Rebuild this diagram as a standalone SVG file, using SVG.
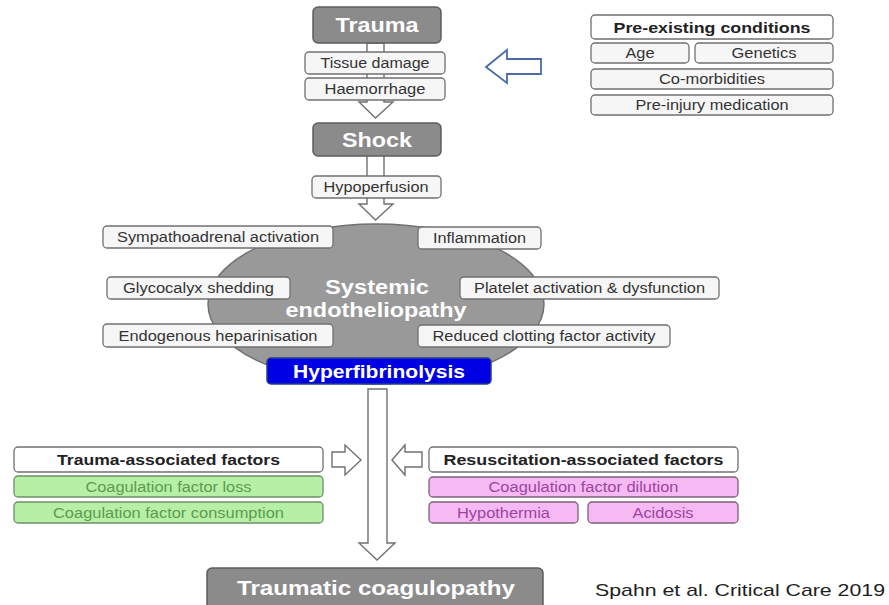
<svg xmlns="http://www.w3.org/2000/svg" width="889" height="605" viewBox="0 0 889 605">
<style>
  text { font-family: "Liberation Sans", Arial, sans-serif; text-anchor: middle; }
  .big rect, rect.big { fill: #8b8b8b; stroke: #5e5e5e; stroke-width: 1.5; }
  .bigt { font-size: 20px; font-weight: bold; fill: #ffffff; }
  .wb { fill: #f6f6f6; stroke: #707070; stroke-width: 1.3; }
  .hb { fill: #ffffff; stroke: #707070; stroke-width: 1.3; }
  .gb { fill: #b5f0a6; stroke: #6f8f68; stroke-width: 1.3; }
  .pb { fill: #f6b9f3; stroke: #7a617a; stroke-width: 1.3; }
  .t { font-size: 14px; fill: #333333; }
  .ht { font-size: 15px; font-weight: bold; fill: #222222; }
  .gt { font-size: 14px; fill: #5f9a50; }
  .pt { font-size: 14px; fill: #9b45a0; }
  .arr { fill: #ffffff; stroke: #707070; stroke-width: 1.4; stroke-linejoin: miter; }
</style>

<g id="connectors">
  <polygon class="arr" points="367,43 384,43 384,102 393,102 375.5,118 359,102 367,102"/>
  <polygon class="arr" points="367,155 384,155 384,204 393,204 375.5,220 359,204 367,204"/>
  <polygon class="arr" points="368,389 387,389 387,543 395,543 377,560 359,543 368,543"/>
  <polygon class="arr" points="332,452 345,452 345,445 361,460 345,475 345,467 332,467"/>
  <polygon class="arr" points="422,452 405,452 405,445 392,460 405,475 405,467 422,467"/>
  <polygon points="541,59 507,59 507,50 486,67 507,83 507,74 541,74" fill="#ffffff" stroke="#4a6aa8" stroke-width="1.8"/>
</g>

<g id="trauma">
  <rect class="big" x="313" y="7" width="128" height="36" rx="5"/>
  <text class="bigt" x="377" y="32" textLength="83" lengthAdjust="spacingAndGlyphs">Trauma</text>
</g>
<g id="tissue-damage">
  <rect class="wb" x="305" y="52" width="140" height="22" rx="4"/>
  <text class="t" x="375" y="68" textLength="109" lengthAdjust="spacingAndGlyphs">Tissue damage</text>
</g>
<g id="haemorrhage">
  <rect class="wb" x="305" y="78" width="140" height="22" rx="4"/>
  <text class="t" x="375" y="94" textLength="101" lengthAdjust="spacingAndGlyphs">Haemorrhage</text>
</g>
<g id="shock">
  <rect class="big" x="313" y="123" width="128" height="33" rx="5"/>
  <text class="bigt" x="377" y="146.5" textLength="70" lengthAdjust="spacingAndGlyphs">Shock</text>
</g>
<g id="hypoperfusion">
  <rect class="wb" x="312" y="176" width="129" height="22" rx="4"/>
  <text class="t" x="376" y="192" textLength="105" lengthAdjust="spacingAndGlyphs">Hypoperfusion</text>
</g>

<g id="pre-existing">
  <rect class="hb" x="591" y="15" width="242" height="24" rx="4"/>
  <text class="ht" x="712" y="32.5" textLength="197" lengthAdjust="spacingAndGlyphs">Pre-existing conditions</text>
</g>
<g id="age">
  <rect class="wb" x="591" y="43" width="98" height="20" rx="4"/>
  <text class="t" x="640" y="58" textLength="29" lengthAdjust="spacingAndGlyphs">Age</text>
</g>
<g id="genetics">
  <rect class="wb" x="695" y="43" width="138" height="20" rx="4"/>
  <text class="t" x="764" y="58" textLength="65" lengthAdjust="spacingAndGlyphs">Genetics</text>
</g>
<g id="co-morbidities">
  <rect class="wb" x="591" y="69" width="242" height="20" rx="4"/>
  <text class="t" x="712" y="84" textLength="106" lengthAdjust="spacingAndGlyphs">Co-morbidities</text>
</g>
<g id="pre-injury">
  <rect class="wb" x="591" y="95" width="242" height="20" rx="4"/>
  <text class="t" x="712" y="110" textLength="153" lengthAdjust="spacingAndGlyphs">Pre-injury medication</text>
</g>

<g id="endotheliopathy">
  <ellipse cx="376" cy="304" rx="168" ry="80" fill="#999999" stroke="#717171" stroke-width="1.5"/>
  <text class="bigt" x="377" y="294" textLength="104" lengthAdjust="spacingAndGlyphs">Systemic</text>
  <text class="bigt" x="376" y="317" textLength="181" lengthAdjust="spacingAndGlyphs">endotheliopathy</text>
</g>
<g id="sympathoadrenal">
  <rect class="wb" x="103" y="226" width="230" height="22" rx="4"/>
  <text class="t" x="218" y="242" textLength="202" lengthAdjust="spacingAndGlyphs">Sympathoadrenal activation</text>
</g>
<g id="inflammation">
  <rect class="wb" x="418" y="227" width="123" height="22" rx="4"/>
  <text class="t" x="479.5" y="243" textLength="93" lengthAdjust="spacingAndGlyphs">Inflammation</text>
</g>
<g id="glycocalyx">
  <rect class="wb" x="107" y="277" width="183" height="22" rx="4"/>
  <text class="t" x="198.5" y="293" textLength="151" lengthAdjust="spacingAndGlyphs">Glycocalyx shedding</text>
</g>
<g id="platelet">
  <rect class="wb" x="460" y="277" width="259" height="22" rx="4"/>
  <text class="t" x="589.5" y="293" textLength="231" lengthAdjust="spacingAndGlyphs">Platelet activation &amp; dysfunction</text>
</g>
<g id="heparinisation">
  <rect class="wb" x="103" y="324" width="230" height="23" rx="4"/>
  <text class="t" x="218" y="340.5" textLength="199" lengthAdjust="spacingAndGlyphs">Endogenous heparinisation</text>
</g>
<g id="clotting">
  <rect class="wb" x="418" y="325" width="252" height="22" rx="4"/>
  <text class="t" x="544" y="341" textLength="223" lengthAdjust="spacingAndGlyphs">Reduced clotting factor activity</text>
</g>
<g id="hyperfibrinolysis">
  <rect x="267" y="358" width="224" height="26" rx="4" fill="#0000e4" stroke="#23408c" stroke-width="1.5"/>
  <text x="379" y="377.5" font-size="18" font-weight="bold" fill="#ffffff" textLength="172" lengthAdjust="spacingAndGlyphs">Hyperfibrinolysis</text>
</g>

<g id="trauma-factors">
  <rect class="hb" x="14" y="447" width="309" height="25" rx="4"/>
  <text class="ht" x="168.5" y="465" textLength="223" lengthAdjust="spacingAndGlyphs">Trauma-associated factors</text>
</g>
<g id="factor-loss">
  <rect class="gb" x="14" y="476" width="309" height="21" rx="4"/>
  <text class="gt" x="168.5" y="491.5" textLength="166" lengthAdjust="spacingAndGlyphs">Coagulation factor loss</text>
</g>
<g id="factor-consumption">
  <rect class="gb" x="14" y="502" width="309" height="21" rx="4"/>
  <text class="gt" x="168.5" y="517.5" textLength="231" lengthAdjust="spacingAndGlyphs">Coagulation factor consumption</text>
</g>

<g id="resuscitation-factors">
  <rect class="hb" x="429" y="447" width="309" height="25" rx="4"/>
  <text class="ht" x="583.5" y="465" textLength="280" lengthAdjust="spacingAndGlyphs">Resuscitation-associated factors</text>
</g>
<g id="factor-dilution">
  <rect class="pb" x="429" y="477" width="309" height="20" rx="4"/>
  <text class="pt" x="583.5" y="492" textLength="190" lengthAdjust="spacingAndGlyphs">Coagulation factor dilution</text>
</g>
<g id="hypothermia">
  <rect class="pb" x="429" y="502" width="149" height="21" rx="4"/>
  <text class="pt" x="503.5" y="517.5" textLength="93" lengthAdjust="spacingAndGlyphs">Hypothermia</text>
</g>
<g id="acidosis">
  <rect class="pb" x="588" y="502" width="150" height="21" rx="4"/>
  <text class="pt" x="663" y="517.5" textLength="61" lengthAdjust="spacingAndGlyphs">Acidosis</text>
</g>

<g id="coagulopathy">
  <rect class="big" x="207" y="568" width="336" height="46" rx="5"/>
  <text class="bigt" x="376" y="595" textLength="278" lengthAdjust="spacingAndGlyphs">Traumatic coagulopathy</text>
</g>

<text x="740" y="596" font-family="'Open Sans', 'Liberation Sans', sans-serif" font-size="17" fill="#1e1e1e" textLength="290" lengthAdjust="spacingAndGlyphs">Spahn et al. Critical Care 2019</text>
</svg>
